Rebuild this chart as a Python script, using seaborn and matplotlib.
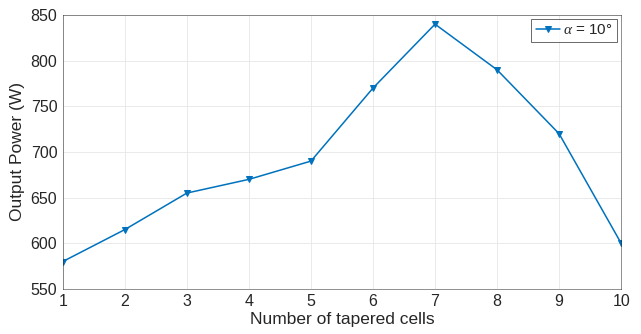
import matplotlib
matplotlib.use("Agg")
import matplotlib.pyplot as plt
import seaborn as sns
import pandas as pd

cells = [1, 2, 3, 4, 5, 6, 7, 8, 9, 10]
power = [580, 615, 655, 670, 690, 770, 840, 790, 720, 600]
series_label = r"$\alpha$ = 10°"

sns.set_theme(style="whitegrid")
plt.rcParams['font.family'] = ['Liberation Sans', 'DejaVu Sans']
plt.rcParams['mathtext.fontset'] = 'custom'
plt.rcParams['mathtext.it'] = 'Liberation Serif:italic'

df = pd.DataFrame({"cells": cells, "power": power})

fig = plt.figure(figsize=(6.41, 3.34), dpi=100)
ax = fig.add_axes([0.098, 0.135, 0.871, 0.82])
sns.lineplot(data=df, x="cells", y="power", ax=ax, color="#0072BD", marker="v",
             markersize=4.5, markeredgecolor="#0072BD", linewidth=1.1, label=series_label)

ax.set_xlim(1, 10)
ax.set_ylim(550, 850)
ax.set_xticks(cells)
ax.set_yticks(range(550, 851, 50))
ax.set_xlabel("Number of tapered cells", fontsize=12.5, color="#262626", labelpad=2)
ax.set_ylabel("Output Power (W)", fontsize=12.5, color="#262626", labelpad=4)
ax.tick_params(axis="both", labelsize=11.5, colors="#262626", direction="in", length=3,
               width=0.6, pad=4)
ax.tick_params(axis="both", colors="#262626", labelcolor="#262626")
for s in ax.spines.values():
    s.set_color("#262626")
    s.set_linewidth(0.6)
    s.set_alpha(0.6)
ax.grid(True, color="#e6e6e6", linewidth=0.6)
ax.set_facecolor("white")
leg = ax.legend(loc="upper right", fontsize=11, frameon=True, fancybox=False,
                handlelength=1.6, handletextpad=0.2, borderpad=0.3, borderaxespad=0.25)
leg.get_frame().set_edgecolor("#262626")
leg.get_frame().set_linewidth(0.6)

fig.savefig("out.png", dpi=100)
